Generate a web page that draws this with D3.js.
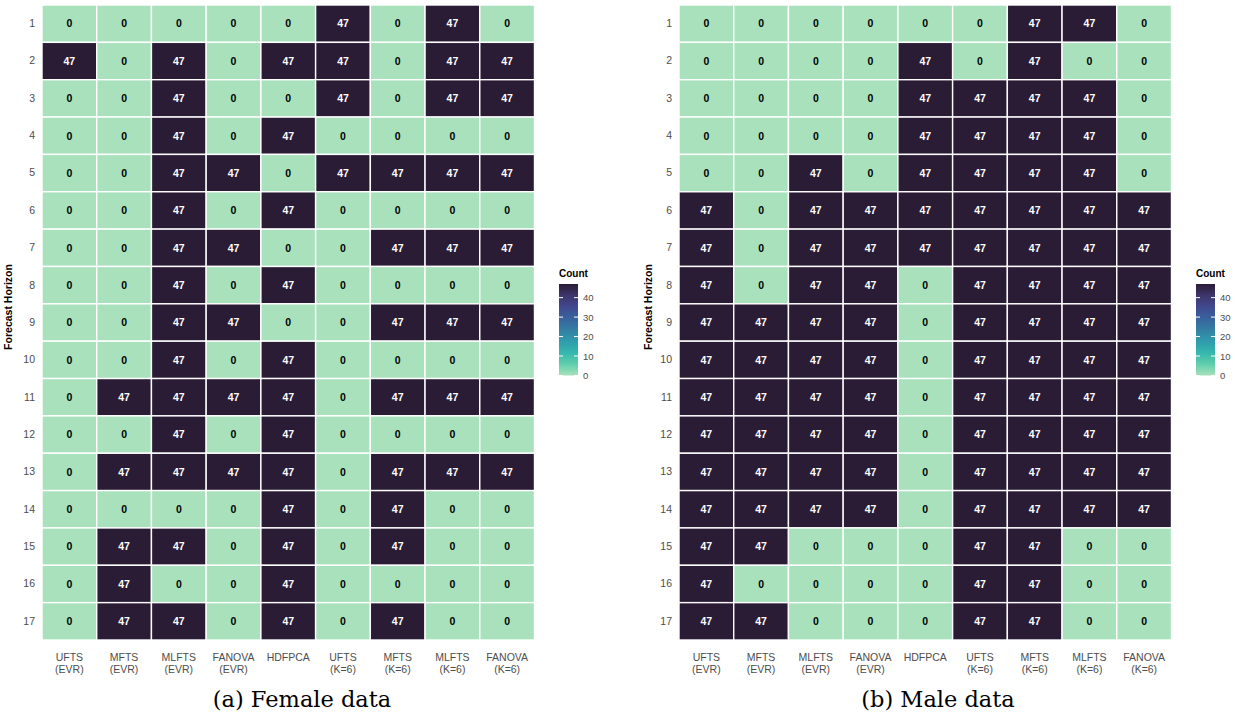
<!DOCTYPE html>
<html>
<head>
<meta charset="utf-8">
<script src="https://cdn.jsdelivr.net/npm/d3@7"></script>
<style>
  body { margin: 0; background: #fff; }
  svg { display: block; }
</style>
</head>
<body>
<div id="chart"></div>
<script>
const methods = ["UFTS\n(EVR)", "MFTS\n(EVR)", "MLFTS\n(EVR)", "FANOVA\n(EVR)", "HDFPCA",
                 "UFTS\n(K=6)", "MFTS\n(K=6)", "MLFTS\n(K=6)", "FANOVA\n(K=6)"];
const horizons = d3.range(1, 18).map(String);

// rows = horizons 1..17, columns = methods
const femaleCounts = [
    [0, 0, 0, 0, 0, 47, 0, 47, 0],
    [47, 0, 47, 0, 47, 47, 0, 47, 47],
    [0, 0, 47, 0, 0, 47, 0, 47, 47],
    [0, 0, 47, 0, 47, 0, 0, 0, 0],
    [0, 0, 47, 47, 0, 47, 47, 47, 47],
    [0, 0, 47, 0, 47, 0, 0, 0, 0],
    [0, 0, 47, 47, 0, 0, 47, 47, 47],
    [0, 0, 47, 0, 47, 0, 0, 0, 0],
    [0, 0, 47, 47, 0, 0, 47, 47, 47],
    [0, 0, 47, 0, 47, 0, 0, 0, 0],
    [0, 47, 47, 47, 47, 0, 47, 47, 47],
    [0, 0, 47, 0, 47, 0, 0, 0, 0],
    [0, 47, 47, 47, 47, 0, 47, 47, 47],
    [0, 0, 0, 0, 47, 0, 47, 0, 0],
    [0, 47, 47, 0, 47, 0, 47, 0, 0],
    [0, 47, 0, 0, 47, 0, 0, 0, 0],
    [0, 47, 47, 0, 47, 0, 47, 0, 0]
];

const maleCounts = [
    [0, 0, 0, 0, 0, 0, 47, 47, 0],
    [0, 0, 0, 0, 47, 0, 47, 0, 0],
    [0, 0, 0, 0, 47, 47, 47, 47, 0],
    [0, 0, 0, 0, 47, 47, 47, 47, 0],
    [0, 0, 47, 0, 47, 47, 47, 47, 0],
    [47, 0, 47, 47, 47, 47, 47, 47, 47],
    [47, 0, 47, 47, 47, 47, 47, 47, 47],
    [47, 0, 47, 47, 0, 47, 47, 47, 47],
    [47, 47, 47, 47, 0, 47, 47, 47, 47],
    [47, 47, 47, 47, 0, 47, 47, 47, 47],
    [47, 47, 47, 47, 0, 47, 47, 47, 47],
    [47, 47, 47, 47, 0, 47, 47, 47, 47],
    [47, 47, 47, 47, 0, 47, 47, 47, 47],
    [47, 47, 47, 47, 0, 47, 47, 47, 47],
    [47, 47, 0, 0, 0, 47, 47, 0, 0],
    [47, 0, 0, 0, 0, 47, 47, 0, 0],
    [47, 47, 0, 0, 0, 47, 47, 0, 0]
];

const legendTicks = [0, 10, 20, 30, 40];
const countMax = 47;

// mako-like, reversed (light = low)
const makoStops = ["#a8e1bc", "#60ceac", "#35b7ad", "#309bac", "#347fa4", "#38629d", "#40498e", "#3e356b", "#2b1c35"];
const color = d3.scaleLinear()
    .domain(makoStops.map((c, i) => i * countMax / (makoStops.length - 1)))
    .range(makoStops)
    .interpolate(d3.interpolateRgb);

const W = 1235, H = 718;
const svg = d3.select("#chart").append("svg")
    .attr("width", W)
    .attr("height", H);

const defs = svg.append("defs");
const grad = defs.append("linearGradient")
    .attr("id", "countGrad")
    .attr("x1", 0).attr("y1", 1).attr("x2", 0).attr("y2", 0);
makoStops.forEach((c, i) => {
    grad.append("stop").attr("offset", i / (makoStops.length - 1)).attr("stop-color", c);
});

const sans = "'Liberation Sans', Arial, sans-serif";

function drawPanel(cfg) {
    const g = svg.append("g");

    const x = d3.scaleBand()
        .domain(methods)
        .range([cfg.left, cfg.right])
        .padding(0);

    const y = d3.scaleBand()
        .domain(horizons)
        .range([5, 640])
        .padding(0);

    const cells = [];
    cfg.data.forEach((row, i) => {
        row.forEach((v, j) => cells.push({ h: horizons[i], m: methods[j], v: v }));
    });

    g.selectAll("rect.cell")
        .data(cells)
        .enter()
        .append("rect")
        .attr("class", "cell")
        .attr("x", d => x(d.m))
        .attr("y", d => y(d.h))
        .attr("width", x.bandwidth())
        .attr("height", y.bandwidth())
        .style("fill", d => color(d.v))
        .style("stroke", "#fff")
        .style("stroke-width", 1.4);

    g.selectAll("text.val")
        .data(cells)
        .enter()
        .append("text")
        .attr("class", "val")
        .attr("x", d => x(d.m) + x.bandwidth() / 2)
        .attr("y", d => y(d.h) + y.bandwidth() / 2)
        .attr("dy", "0.36em")
        .attr("text-anchor", "middle")
        .style("font-family", sans)
        .style("font-size", "10.5px")
        .style("font-weight", "bold")
        .style("fill", d => d.v > 23 ? "#fff" : "#000")
        .text(d => d.v);

    // y axis (no line, no ticks)
    const yAxis = g.append("g")
        .attr("transform", "translate(" + (cfg.left - 7) + ",0)")
        .call(d3.axisLeft(y).tickSize(0).tickPadding(0));
    yAxis.select(".domain").remove();
    yAxis.selectAll("text")
        .style("font-family", sans)
        .style("font-size", "10.5px")
        .style("fill", "#4d4d4d");

    // x axis labels, two lines
    const xl = g.selectAll("text.xlab")
        .data(methods)
        .enter()
        .append("text")
        .attr("class", "xlab")
        .attr("x", d => x(d) + x.bandwidth() / 2)
        .attr("y", 661)
        .attr("text-anchor", "middle")
        .style("font-family", sans)
        .style("font-size", "10.5px")
        .style("fill", "#4d4d4d");
    xl.each(function (d) {
        const parts = d.split("\n");
        const t = d3.select(this);
        parts.forEach((p, k) => {
            t.append("tspan")
                .attr("x", x(d) + x.bandwidth() / 2)
                .attr("dy", k === 0 ? 0 : 12)
                .text(p);
        });
    });

    // y axis title
    g.append("text")
        .attr("transform", "translate(" + (cfg.yTitleX) + ",307)rotate(-90)")
        .attr("text-anchor", "middle")
        .style("font-family", sans)
        .style("font-size", "10.5px")
        .style("font-weight", "bold")
        .text("Forecast Horizon");

    // legend
    const lg = g.append("g").attr("transform", "translate(" + cfg.legendX + ",0)");
    lg.append("text")
        .attr("x", 0)
        .attr("y", 277)
        .style("font-family", sans)
        .style("font-size", "10px")
        .style("font-weight", "bold")
        .text("Count");

    const ly = d3.scaleLinear().domain([0, countMax]).range([375.5, 284]);
    lg.append("rect")
        .attr("x", 0)
        .attr("y", ly(countMax))
        .attr("width", 19)
        .attr("height", ly(0) - ly(countMax))
        .style("fill", "url(#countGrad)");

    legendTicks.forEach(t => {
        lg.append("line").attr("x1", 0).attr("x2", 4).attr("y1", ly(t)).attr("y2", ly(t))
            .style("stroke", "#fff").style("stroke-width", 1);
        lg.append("line").attr("x1", 15).attr("x2", 19).attr("y1", ly(t)).attr("y2", ly(t))
            .style("stroke", "#fff").style("stroke-width", 1);
    });
    const la = lg.append("g")
        .attr("transform", "translate(21,0)")
        .call(d3.axisRight(ly).tickValues(legendTicks).tickSize(0).tickPadding(3));
    la.select(".domain").remove();
    la.selectAll("text")
        .style("font-family", sans)
        .style("font-size", "9.5px")
        .style("fill", "#4d4d4d");

    // caption
    svg.append("text")
        .attr("x", cfg.captionX)
        .attr("y", 707)
        .attr("text-anchor", "middle")
        .style("font-family", "'DejaVu Serif', 'Liberation Serif', serif")
        .style("font-size", "22.5px")
        .text(cfg.caption);
}

drawPanel({ data: femaleCounts, left: 42, right: 534.5, yTitleX: 12, legendX: 559, caption: "(a) Female data", captionX: 302 });
drawPanel({ data: maleCounts, left: 679, right: 1171.5, yTitleX: 652, legendX: 1196, caption: "(b) Male data", captionX: 938 });
</script>
</body>
</html>
